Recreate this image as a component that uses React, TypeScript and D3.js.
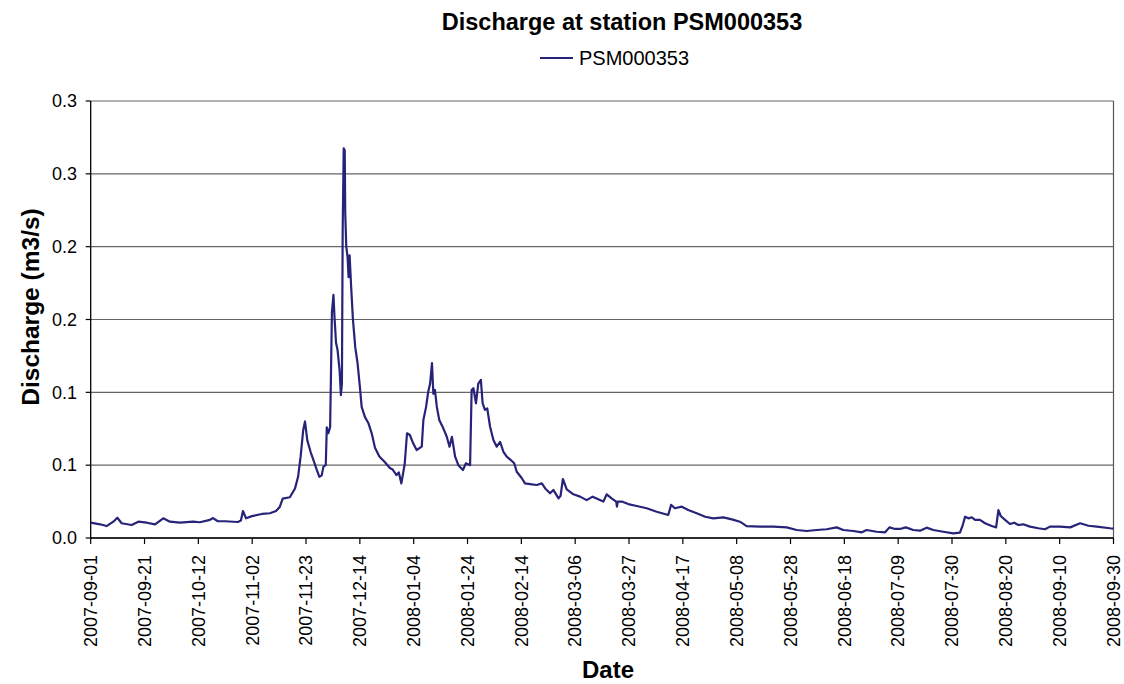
import React from 'react';
import * as d3 from 'd3';

// ---- data ----
const title = 'Discharge at station PSM000353';
const seriesName = 'PSM000353';

// category-axis tick labels (evenly spaced in the reference)
const tickLabels = [
  '2007-09-01', '2007-09-21', '2007-10-12', '2007-11-02', '2007-11-23', '2007-12-14',
  '2008-01-04', '2008-01-24', '2008-02-14', '2008-03-06', '2008-03-27', '2008-04-17',
  '2008-05-08', '2008-05-28', '2008-06-18', '2008-07-09', '2008-07-30', '2008-08-20',
  '2008-09-10', '2008-09-30',
];
// day offsets of the tick labels from 2007-09-01
const tickDays = [0, 20, 41, 62, 83, 104, 125, 145, 166, 187, 208, 229, 250, 270, 291, 312, 333, 354, 375, 395];

const yTicks = [0, 0.05, 0.1, 0.15, 0.2, 0.25, 0.3];
const yTickLabels = ['0.0', '0.1', '0.1', '0.2', '0.2', '0.3', '0.3'];

// days since 2007-09-01
const dayOffsets = [
  0, 3.5, 5.9, 8.4, 9.9, 11.5, 15.2, 17.7,
  20.9, 24.1, 27.3, 29.9, 33.8, 39.0,
  41.6, 45.5, 46.7, 48.6, 51.4, 56.4, 57.6, 58.4, 59.6, 61.9,
  65.8, 68.9, 71.3, 72.8, 73.9, 76.7, 78.7, 79.9, 80.9, 81.9, 82.6,
  83.5, 84.8, 85.9, 87.2, 88.2, 89.1, 89.8, 90.7, 91.1, 91.7, 92.4, 92.8, 93.1, 93.7, 94.1,
  94.7, 95.3, 96.1, 96.6, 97.0, 97.3, 97.7, 98.1, 98.3, 98.7, 99.2, 99.6, 100.0, 100.6,
  101.3, 102.2, 103.1,
  104.0, 104.7, 106.0, 107.3, 108.6, 109.9, 111.6, 113.8, 115.7, 116.8, 118.3, 119.2, 120.2,
  121.5, 122.4, 123.5, 124.8,
  126.1, 128.0, 128.6, 129.6, 130.4, 131.1, 131.8, 132.3, 132.9, 133.6, 134.5, 136.0, 137.3,
  138.3, 139.2, 140.4, 141.6, 143.3, 144.4,
  146.0, 146.6, 147.3, 148.3, 149.2, 150.2, 150.9, 151.8, 152.7, 153.8, 155.1, 156.4, 157.7,
  159.0, 160.3, 161.9, 163.2, 164.2,
  166.2, 167.4, 169.4, 172.0, 174.0, 175.3, 177.2, 178.5, 180.5, 181.3, 182.2, 183.7, 186.3,
  188.9, 191.5, 193.8, 196.0, 198.0, 199.3, 201.2, 203.0, 203.3, 203.6, 205.2, 207.7,
  211.0, 214.9, 218.8, 223.3, 224.4, 225.9, 228.6,
  231.1, 234.4, 237.7, 240.9, 244.8, 248.1,
  251.2, 253.7, 258.7, 263.6, 268.6,
  272.4, 276.3, 280.2, 284.1, 288.0, 290.6,
  294.5, 297.8, 299.7, 303.6, 306.9, 308.6, 310.8,
  312.7, 315.0, 317.9, 320.5, 323.1, 325.7, 329.6,
  333.5, 336.1, 337.2, 338.1, 339.4, 340.7, 342.0, 343.9, 345.9, 348.5, 350.2, 351.1, 352.0, 353.7,
  355.6, 357.3, 358.9, 360.8, 363.4, 366.7, 369.3, 371.2,
  375.1, 378.9, 382.6, 385.7, 388.8, 393.7, 395,
];

// discharge (m3/s)
const discharge = [
  0.0105, 0.0094, 0.0082, 0.0112, 0.0139, 0.0101, 0.0089, 0.0112,
  0.0105, 0.0094, 0.0135, 0.0112, 0.0105, 0.0112,
  0.0108, 0.0124, 0.0137, 0.0115, 0.0115, 0.011, 0.012, 0.0185, 0.0135, 0.015,
  0.0165, 0.017, 0.0185, 0.0215, 0.027, 0.028, 0.034, 0.042, 0.056, 0.074, 0.080,
  0.067, 0.059, 0.0535, 0.0467, 0.042, 0.043, 0.049, 0.050, 0.076, 0.072, 0.076, 0.120, 0.155, 0.167, 0.152,
  0.134, 0.129, 0.115, 0.098, 0.106, 0.211, 0.2675, 0.266, 0.223, 0.200, 0.193, 0.179, 0.194, 0.1725,
  0.150, 0.131, 0.120,
  0.104, 0.090, 0.083, 0.079, 0.072, 0.062, 0.056, 0.052, 0.048, 0.047, 0.0432, 0.045, 0.0375,
  0.051, 0.0719, 0.0707, 0.065,
  0.0604, 0.0627, 0.081, 0.090, 0.1004, 0.106, 0.120, 0.099, 0.1016, 0.090, 0.081, 0.0753, 0.0695,
  0.0627, 0.0695, 0.0558, 0.050, 0.0467, 0.0513,
  0.050, 0.1016, 0.1028, 0.0925, 0.106, 0.1085, 0.0925, 0.0879, 0.089, 0.0764, 0.0673, 0.0627, 0.066,
  0.0592, 0.0558, 0.0535, 0.0513, 0.0455,
  0.041, 0.0375, 0.037, 0.0364, 0.0375, 0.034, 0.0307, 0.033, 0.0272, 0.029, 0.0405, 0.0334, 0.030,
  0.0284, 0.026, 0.0284, 0.0266, 0.025, 0.030, 0.0272, 0.025, 0.0215, 0.025, 0.025, 0.0233,
  0.022, 0.0204, 0.018, 0.0158, 0.0227, 0.0204, 0.0215,
  0.0192, 0.017, 0.0146, 0.0135, 0.0142, 0.0128,
  0.0112, 0.0082, 0.0078, 0.0078, 0.0073,
  0.0055, 0.0048, 0.0055, 0.006, 0.0073, 0.0055,
  0.0048, 0.0039, 0.0055, 0.0043, 0.0039, 0.0073, 0.0062,
  0.0062, 0.0073, 0.0055, 0.005, 0.0071, 0.0055, 0.0043,
  0.0032, 0.0037, 0.0089, 0.0146, 0.0135, 0.0142, 0.0124, 0.0124, 0.0101, 0.0082, 0.0073, 0.0192, 0.0151, 0.0124,
  0.0096, 0.0105, 0.0089, 0.0094, 0.0078, 0.0067, 0.006, 0.0078,
  0.0078, 0.0073, 0.0101, 0.0084, 0.0078, 0.0067, 0.0065,
];

// ---- layout ----
const W = 1124;
const H = 684;
const plotLeft = 90.7;
const plotRight = 1113.5;
const plotTop = 101;
const plotBottom = 538;
const FONT = 'Arial, "Liberation Sans", Helvetica, sans-serif';
const LINE_COLOR = '#262379';

export default function App() {
  const step = (plotRight - plotLeft) / (tickDays.length - 1);
  const x = d3
    .scaleLinear()
    .domain(tickDays)
    .range(tickDays.map((_, i) => plotLeft + i * step));
  const y = d3.scaleLinear().domain([0, 0.3]).range([plotBottom, plotTop]);

  const pts = dayOffsets.map((d, i) => [d, discharge[i]] as [number, number]);
  const line = d3
    .line<[number, number]>()
    .x((d) => x(d[0]))
    .y((d) => y(d[1]));

  return (
    <svg
      width={W}
      height={H}
      style={{ position: 'absolute', left: 0, top: 0, background: '#fff' }}
      fontFamily={FONT}
    >
      <rect x={0} y={0} width={W} height={H} fill="#fff" />
      {/* title */}
      <text x={622} y={30} textAnchor="middle" fontSize={23.5} fontWeight="bold" fill="#000">
        {title}
      </text>
      {/* legend */}
      <line x1={540} x2={573} y1={58} y2={58} stroke={LINE_COLOR} strokeWidth={2} />
      <text x={579} y={65} fontSize={20} fill="#000">
        {seriesName}
      </text>

      {/* gridlines */}
      {yTicks.map((t, i) => (
        <line
          key={'g' + i}
          x1={plotLeft}
          x2={plotRight}
          y1={y(t)}
          y2={y(t)}
          stroke="#666"
          strokeWidth={1.2}
        />
      ))}
      {/* right border */}
      <line x1={plotRight} x2={plotRight} y1={plotTop} y2={plotBottom} stroke="#555" strokeWidth={1.2} />

      {/* y axis */}
      <line x1={plotLeft} x2={plotLeft} y1={plotTop} y2={plotBottom} stroke="#000" strokeWidth={1.3} />
      {yTicks.map((t, i) => (
        <g key={'yt' + i}>
          <line x1={plotLeft - 5} x2={plotLeft} y1={y(t)} y2={y(t)} stroke="#000" strokeWidth={1.2} />
          <text x={77} y={y(t)} dy="0.35em" textAnchor="end" fontSize={18} fill="#000">
            {yTickLabels[i]}
          </text>
        </g>
      ))}

      {/* x axis */}
      <line x1={plotLeft} x2={plotRight} y1={plotBottom} y2={plotBottom} stroke="#000" strokeWidth={1.3} />
      {tickDays.map((d, i) => (
        <g key={'xt' + i}>
          <line x1={x(d)} x2={x(d)} y1={plotBottom} y2={plotBottom + 6} stroke="#000" strokeWidth={1.2} />
          <text
            transform={`translate(${x(d)},555) rotate(-90)`}
            dy="0.35em"
            textAnchor="end"
            fontSize={18}
            fill="#000"
          >
            {tickLabels[i]}
          </text>
        </g>
      ))}

      {/* series */}
      <path d={line(pts) || ''} fill="none" stroke={LINE_COLOR} strokeWidth={2.2} strokeLinejoin="round" />

      {/* axis titles */}
      <text
        transform="translate(38.5,307) rotate(-90)"
        textAnchor="middle"
        fontSize={24.5}
        fontWeight="bold"
        fill="#000"
      >
        Discharge (m3/s)
      </text>
      <text x={608} y={678} textAnchor="middle" fontSize={24} fontWeight="bold" fill="#000">
        Date
      </text>
    </svg>
  );
}
